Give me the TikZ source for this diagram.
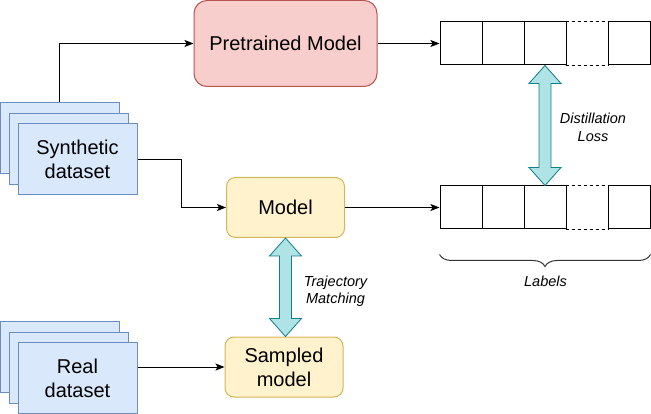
\documentclass[tikz,border=0pt]{standalone}
\usepackage{fontspec}
\setmainfont{Liberation Sans}
\usetikzlibrary{arrows.meta,calc,decorations.pathreplacing}
\definecolor{sheetFill}{HTML}{DAE8FC}
\definecolor{sheetLine}{HTML}{6C8EBF}
\definecolor{preFill}{HTML}{F8CECC}
\definecolor{preLine}{HTML}{B85450}
\definecolor{modelFill}{HTML}{FFF2CC}
\definecolor{modelLine}{HTML}{D6B656}
\definecolor{fatFill}{HTML}{B0E3E6}
\definecolor{fatLine}{HTML}{0E8088}
\newcommand{\boxFont}[0]{\fontsize{20}{24}\selectfont}
\newcommand{\noteFont}[0]{\fontsize{14.5}{17.4}\selectfont\itshape}
\newcommand{\fatArrow}[2]{%
  \draw[fatarrow] let \p1=(#1), \p2=(#2) in
    (\x1,\y1) -- (\x1+16pt,\y1-18pt) -- (\x1+6pt,\y1-18pt) -- (\x1+6pt,\y2+18pt)
    -- (\x1+16pt,\y2+18pt) -- (\x1,\y2) -- (\x1-16pt,\y2+18pt) -- (\x1-6pt,\y2+18pt)
    -- (\x1-6pt,\y1-18pt) -- (\x1-16pt,\y1-18pt) -- cycle;}

\begin{document}
\begin{tikzpicture}[x=1pt, y=-1pt, line width=1pt]
  \tikzset{sheet/.style={draw=sheetLine, fill=sheetFill, minimum width=119pt, minimum height=71pt, inner sep=0pt, align=center, font=\boxFont},
    premodel/.style={draw=preLine, fill=preFill, rounded corners=13pt, minimum width=183pt, minimum height=86pt, font=\boxFont},
    model/.style={draw=modelLine, fill=modelFill, rounded corners=9pt, minimum width=118pt, minimum height=60pt, align=center, font=\boxFont},
    cell/.style={draw, minimum width=42pt, minimum height=43pt, inner sep=0pt},
    gap/.style={minimum width=42pt, minimum height=43pt, inner sep=0pt},
    note/.style={align=center, font=\noteFont},
    link/.style={-{Stealth[length=9pt,width=7pt,inset=2pt]}},
    fatarrow/.style={draw=fatLine, fill=fatFill, line width=0.8pt, line join=miter},
    brace/.style={decorate, decoration={brace, mirror, amplitude=12pt}, draw=black!80}}
  \useasboundingbox (0,0) rectangle (651,414);

  % datasets
  \node[sheet] (syn-back) at (59.5,138) {};
  \node[sheet] (syn-mid) at (68.5,149) {};
  \node[sheet] (syn) at (77.5,159.5) {Synthetic\\dataset};
  \node[sheet] (real-back) at (59.5,356.5) {};
  \node[sheet] (real-mid) at (68.5,367.5) {};
  \node[sheet] (real) at (77.5,378) {Real\\dataset};

  % models
  \node[premodel] (pre) at (285.5,43.5) {Pretrained Model};
  \node[model] (model) at (285.5,207.5) {Model};
  \node[model] (sampled) at (284,367) {Sampled\\model};

  % label rows
  \foreach \i/\x in {1/461,2/503,3/545,5/629} {
    \node[cell] (top-\i) at (\x,43.5) {};
    \node[cell] (bot-\i) at (\x,207.5) {};
  }
  \node[gap] (top-4) at (587,43.5) {};
  \node[gap] (bot-4) at (587,207.5) {};
  \foreach \r in {top,bot} {
    \draw[dashed] (\r-4.north west) -- (\r-4.north east);
    \draw[dashed] (\r-4.south west) -- (\r-4.south east);
  }

  % connections
  \draw[link] (syn-back.north) |- (pre.west);
  \draw[link] (syn.east) -| ($(syn.east)!0.5!(model.west)$) |- (model.west);
  \draw[link] (real.east |- sampled.west) -- (sampled.west);
  \draw[link] (pre.east) -- (top-1.west);
  \draw[link] (model.east) -- (bot-1.west);

  \fatArrow{top-3.south}{bot-3.north}
  \fatArrow{model.south}{sampled.north}

  \node[note] (distill) at (593,127.5) {Distillation\\Loss};
  \node[note] (traj) at (335.5,291.5) {Trajectory\\Matching};

  \draw[brace] ([yshift=-25pt]bot-1.south west) -- ([yshift=-25pt]bot-5.south east);
  \node[note] (labels) at (545.5,281) {Labels};
\end{tikzpicture}
\end{document}
